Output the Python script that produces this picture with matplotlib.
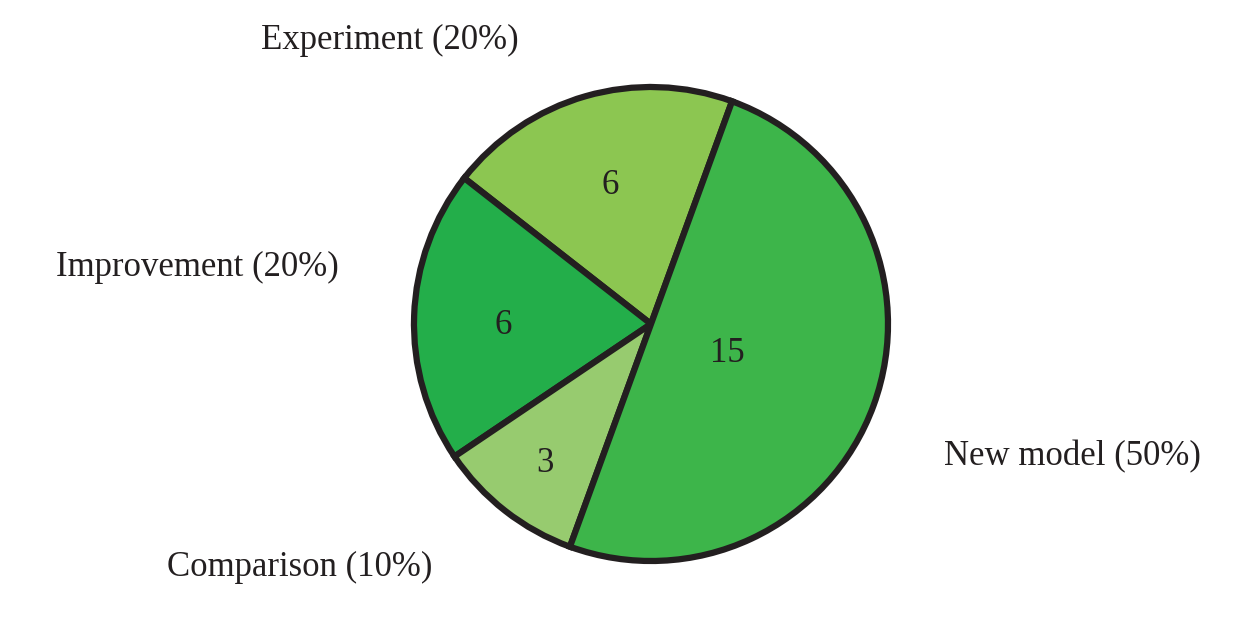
import matplotlib
matplotlib.use('Agg')
import matplotlib.pyplot as plt

# data
categories = ['Experiment', 'Improvement', 'Comparison', 'New model']
counts = [6, 6, 3, 15]
colors = ['#8cc651', '#23ae4a', '#97cb6f', '#3db54a']

total = sum(counts)

fig = plt.figure(figsize=(12.55, 6.22), dpi=100)
ax = fig.add_axes([0, 0, 1, 1])
ax.set_xlim(0, 1255)
ax.set_ylim(0, 622)
ax.set_aspect('equal')
ax.axis('off')

cx, cy, r = 651, 298, 237
wedges, texts = ax.pie(counts, colors=colors, startangle=70, counterclock=True,
                       center=(cx, cy), radius=r, frame=True,
                       labels=[str(c) for c in counts], labeldistance=0.6,
                       wedgeprops=dict(edgecolor='#231f20', linewidth=4.5),
                       textprops=dict(fontsize=25, family='Liberation Serif', color='#231f20'))
ax.set_xlim(0, 1255)
ax.set_ylim(0, 622)
ax.axis('off')
for t, pos in zip(texts, [(610, 437), (503, 297), (545, 158), (727, 269)]):
    t.set_position(pos)
    t.set_ha('center')
    t.set_va('center')

label_pos = [(390, 582), (197, 355), (300, 55), (1072, 165)]
for name, c, (x, y) in zip(categories, counts, label_pos):
    ax.text(x, y, f'{name} ({round(100 * c / total)}%)', ha='center', va='center',
            fontsize=25, family='Liberation Serif', color='#231f20')

fig.savefig('out.png', dpi=100)
plt.close()
